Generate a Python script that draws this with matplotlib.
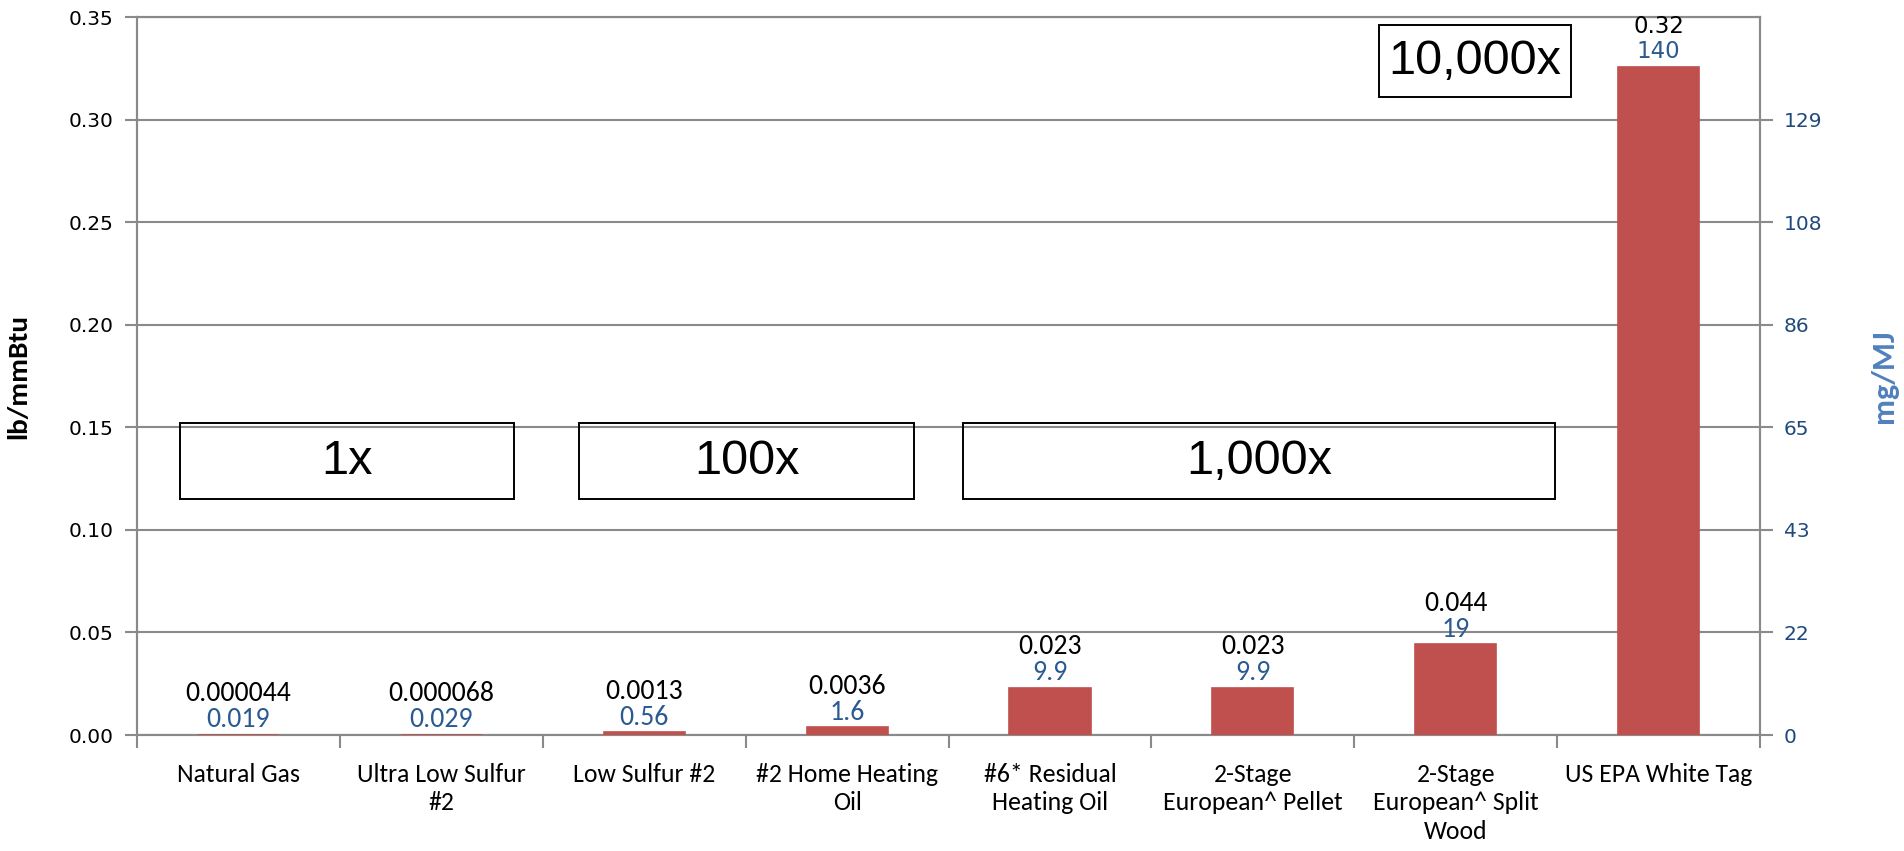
import matplotlib
matplotlib.use("Agg")
import matplotlib.pyplot as plt
from matplotlib.patches import Rectangle
import numpy as np

# fuel categories and particulate emission values
categories = [
    "Natural Gas",
    "Ultra Low Sulfur\n#2",
    "Low Sulfur #2",
    "#2 Home Heating\nOil",
    "#6* Residual\nHeating Oil",
    "2-Stage\nEuropean^ Pellet",
    "2-Stage\nEuropean^ Split\nWood",
    "US EPA White Tag",
]
lb_labels = ["0.000044", "0.000068", "0.0013", "0.0036", "0.023", "0.023", "0.044", "0.32"]
mg_mj = [0.019, 0.029, 0.56, 1.6, 9.9, 9.9, 19, 140]
mg_labels = ["0.019", "0.029", "0.56", "1.6", "9.9", "9.9", "19", "140"]

# 1 lb/mmBtu = ~430 mg/MJ
LB_TO_MG = 430.0
lb_ticks = [0.00, 0.05, 0.10, 0.15, 0.20, 0.25, 0.30, 0.35]

# order-of-magnitude boxes: (x0, x1, y0, y1, text)
ranges = [
    (-0.29, 1.36, 0.115, 0.152, "1x"),
    (1.68, 3.33, 0.115, 0.152, "100x"),
    (3.57, 6.49, 0.115, 0.152, "1,000x"),
    (5.62, 6.57, 0.311, 0.346, "10,000x"),
]

BAR = "#C0504D"
BLUE = "#2A5A91"
GRID = "#8A8A8A"
CAL = ["Carlito", "DejaVu Sans"]

fig = plt.figure(figsize=(19.04, 8.51), dpi=100)
ax = fig.add_axes([0.072, 0.1363, 0.8524, 0.8437])
ax2 = ax.twinx()

x = np.arange(len(categories))
ax.set_xlim(-0.5, len(categories) - 0.5)
ax.set_ylim(0, 0.35)
ax2.set_ylim(0, 0.35 * LB_TO_MG)

# gridlines on the left (lb/mmBtu) scale
ax.set_yticks(lb_ticks)
ax.set_yticklabels([f"{t:.2f}" for t in lb_ticks], fontsize=14.5, family="DejaVu Sans")
ax.yaxis.grid(True, color=GRID, linewidth=1.5)
ax.set_axisbelow(True)

mg_ticks = [t * LB_TO_MG for t in lb_ticks[:-1]]
ax2.set_yticks(mg_ticks)
ax2.set_yticklabels([str(int(t + 0.5)) for t in mg_ticks], fontsize=14.5,
                    family="DejaVu Sans", color="#1F497D")

for a in (ax, ax2):
    for s in a.spines.values():
        s.set_color(GRID)
        s.set_linewidth(1.5)
    a.tick_params(axis="y", length=9, width=1.5, color=GRID, pad=8)

# category separators as ticks, labels at the centres
ax.set_xticks(x)
ax.set_xticklabels(categories, fontsize=18.5, family=CAL, linespacing=1.29)
ax.tick_params(axis="x", length=0, pad=20)
ax.set_xticks(np.arange(-0.5, len(categories)), minor=True)
ax.tick_params(axis="x", which="minor", length=9, width=1.5, color=GRID)

# bars drawn on the mg/MJ scale; thin edge keeps the tiny ones visible
ax2.bar(x, mg_mj, width=0.4, color=BAR, edgecolor=BAR, linewidth=1.2, zorder=3)

for i, (v, lb, mg) in enumerate(zip(mg_mj, lb_labels, mg_labels)):
    last = i == len(categories) - 1
    fam = "DejaVu Sans" if last else CAL
    fs = 16.5 if last else 20
    ax2.annotate(mg, (i, v), xytext=(0, 11), textcoords="offset points",
                 ha="center", va="center", color=BLUE, fontsize=fs, family=fam)
    ax2.annotate(lb, (i, v), xytext=(0, 29.5), textcoords="offset points",
                 ha="center", va="center", color="black", fontsize=fs, family=fam)

for x0, x1, y0, y1, txt in ranges:
    ax.add_patch(Rectangle((x0, y0), x1 - x0, y1 - y0, fill=False,
                           edgecolor="black", linewidth=1.4, zorder=4))
    ax.text((x0 + x1) / 2, (y0 + y1) / 2, txt, ha="center", va="center",
            fontsize=35, family="Liberation Sans", zorder=5)

ax.set_ylabel("lb/mmBtu", fontsize=21, fontweight="bold", family=CAL)
ax.yaxis.set_label_coords(-0.066, 0.5)
ax2.set_ylabel("mg/MJ", fontsize=23, fontweight="bold", family=CAL, color="#4F81BD",
               rotation=90)
ax2.yaxis.set_label_coords(1.068, 0.5)

fig.savefig("out.png", dpi=100)
